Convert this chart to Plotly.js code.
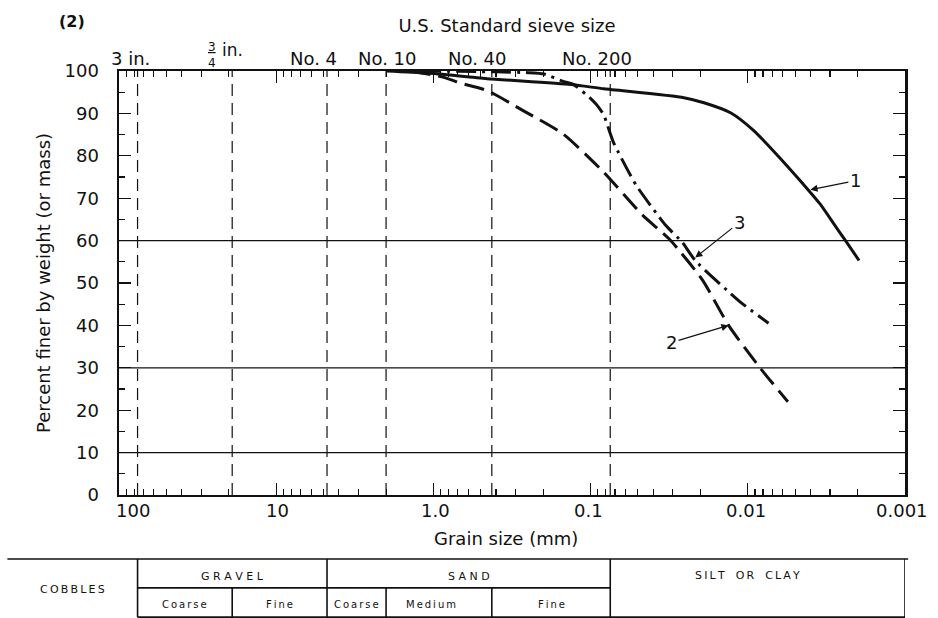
<!DOCTYPE html>
<html>
<head>
<meta charset="utf-8">
<script src="https://cdn.plot.ly/plotly-3.0.1.min.js"></script>
<style>
  html, body { margin: 0; padding: 0; background: #fff; }
  #chart { width: 938px; height: 618px; }
</style>
</head>
<body>
<div id="chart"></div>
<script>
// Grain-size distribution curves (percent finer vs. grain size, mm)
const curve1Size = [2.0, 1.10, 0.456, 0.133, 0.0822, 0.0255, 0.0190, 0.0128, 0.0092, 0.00662, 0.00446, 0.00348, 0.00276, 0.00239, 0.00196];
const curve1Pct  = [100, 99.5, 98.2, 96.8, 95.8, 93.7, 92.5, 90.1, 86.0, 80.5, 73.4, 68.7, 63.3, 60.0, 55.3];

const curve2Size = [1.4, 0.857, 0.667, 0.456, 0.267, 0.149, 0.0834, 0.0467, 0.0315, 0.0195, 0.01325, 0.00857, 0.00556];
const curve2Pct  = [100, 98.5, 97.1, 95.4, 90.6, 85.1, 76.3, 66.0, 60.3, 50.8, 40.0, 30.5, 22.0];

const curve3Size = [1.2, 0.40, 0.25, 0.198, 0.148, 0.128, 0.0998, 0.0914, 0.0826, 0.0718, 0.0514, 0.0333, 0.0261, 0.0216, 0.0114, 0.00738];
const curve3Pct  = [100, 99.8, 99.6, 99.3, 97.5, 96.8, 93.5, 92.0, 89.7, 83.3, 73.1, 63.6, 59.6, 55.3, 45.8, 40.5];

// Curve labels: grain size and percent where each arrow touches its curve
const curveLabels   = ['1', '2', '3'];
const labelAtSize   = [0.0040, 0.01325, 0.0216];
const labelAtPct    = [72, 40, 56];

// U.S. standard sieve openings (mm) and their names
const sieveSizes  = [76.2, 19.05, 4.75, 2.0, 0.425, 0.075];
const sieveLabels = ['3 in.', '3/4 in.', 'No. 4', 'No. 10', 'No. 40', 'No. 200'];

// Bottom axis decades
const decadeVals = [100, 10, 1, 0.1, 0.01, 0.001];
const decadeText = ['100', '10', '1.0', '0.1', '0.01', '0.001'];

// Percent gridlines
const pctGrid = [10, 30, 60];

// Soil classification bands (mm boundaries)
const mainBands = [
  { name: 'GRAVEL', from: 76.2, to: 4.75 },
  { name: 'SAND', from: 4.75, to: 0.075 }
];
const subBands = [
  { name: 'Coarse', from: 76.2, to: 19.05 },
  { name: 'Fine', from: 19.05, to: 4.75 },
  { name: 'Coarse', from: 4.75, to: 2.0 },
  { name: 'Medium', from: 2.0, to: 0.425 },
  { name: 'Fine', from: 0.425, to: 0.075 }
];
const fineBand = { name: 'SILT OR CLAY', from: 0.075, to: 0.001 };
const coarseBand = 'COBBLES';

const FONT = 'DejaVu Sans, Liberation Sans, sans-serif';
const INK = '#111';

const traces = [
  { x: curve1Size, y: curve1Pct, mode: 'lines', line: { color: INK, width: 3, shape: 'spline', smoothing: 0.6 } },
  { x: curve2Size, y: curve2Pct, mode: 'lines', line: { color: INK, width: 3, dash: '20px,8px', shape: 'spline', smoothing: 0.6 } },
  { x: curve3Size, y: curve3Pct, mode: 'lines', line: { color: INK, width: 3, dash: '20px,6px,3px,6px', shape: 'spline', smoothing: 0.5 } }
];

const shapes = [];
const annotations = [];
const note = (o) => annotations.push(Object.assign({ showarrow: false, xanchor: 'center', yanchor: 'middle' }, o));

// dashed verticals at each sieve opening
sieveSizes.forEach(s => shapes.push({
  type: 'line', xref: 'x', yref: 'paper', x0: s, x1: s, y0: 0, y1: 1,
  line: { color: INK, width: 1.2, dash: '12px,7px' }
}));
// thin horizontal gridlines
pctGrid.forEach(p => shapes.push({
  type: 'line', xref: 'paper', yref: 'y', x0: 0, x1: 1, y0: p, y1: p,
  line: { color: INK, width: 1.2 }
}));

// sieve names along the top
const sieveLabelNudge = [-7, 0, -14, 1, -14, -13];
sieveLabels.forEach((lab, i) => {
  const x = Math.log10(sieveSizes[i]);
  const frac = lab.match(/^(\d)\/(\d) (.*)$/);
  if (frac) {
    note({ xref: 'x', yref: 'paper', x, y: 1, yshift: 16, xshift: -20,
      text: '<u>' + frac[1] + '</u><br>' + frac[2], align: 'center',
      font: { family: FONT, size: 12, color: INK } });
    note({ xref: 'x', yref: 'paper', x, y: 1, yshift: 21, xshift: 0,
      text: frac[3], font: { family: FONT, size: 17, color: INK } });
  } else {
    note({ xref: 'x', yref: 'paper', x, y: 1, yshift: 13, xshift: sieveLabelNudge[i],
      text: lab, font: { family: FONT, size: 18, color: INK } });
  }
});

// decade labels under the axis
const decadeNudge = [14, 1, 2, -2, -2, -3];
decadeVals.forEach((v, i) => note({
  xref: 'x', yref: 'paper', x: Math.log10(v), y: 0, yshift: -15, xshift: decadeNudge[i],
  text: decadeText[i], font: { family: FONT, size: 18, color: INK }
}));
note({ xref: 'paper', yref: 'paper', x: 0.492, y: 0, yshift: -43,
  text: 'Grain size (mm)', font: { family: FONT, size: 18, color: INK } });

// curve number callouts
const calloutOffsets = [[45, -9], [-57, 17], [44, -35]];
curveLabels.forEach((lab, i) => annotations.push({
  x: Math.log10(labelAtSize[i]), y: labelAtPct[i], xref: 'x', yref: 'y',
  text: lab, showarrow: true, arrowhead: 2, arrowsize: 1.2, arrowwidth: 1.2, arrowcolor: INK,
  ax: calloutOffsets[i][0], ay: calloutOffsets[i][1],
  font: { family: FONT, size: 18, color: INK }
}));

// panel tag
note({ xref: 'paper', yref: 'paper', x: -0.06, y: 1.116, text: '<b>(2)</b>',
  font: { family: FONT, size: 16, color: INK } });

// classification table beneath the axis
const T_TOP = -0.151, T_MID = -0.219, T_BOT = -0.288;
const tableLine = { color: INK, width: 1.6 };
const hline = (x0, x1, y) => shapes.push({ type: 'line', xref: 'x', yref: 'paper', x0, x1, y0: y, y1: y, line: tableLine });
const vline = (x, y0, y1) => shapes.push({ type: 'line', xref: 'x', yref: 'paper', x0: x, x1: x, y0, y1, line: tableLine });

shapes.push({ type: 'line', xref: 'paper', yref: 'paper', x0: -0.142, x1: 1.004, y0: T_TOP, y1: T_TOP, line: tableLine });
hline(mainBands[0].from, mainBands[mainBands.length - 1].to, T_MID);
hline(mainBands[0].from, fineBand.to, T_BOT);
[mainBands[0].from, mainBands[0].to, fineBand.from, fineBand.to].forEach(b => vline(b, T_TOP, T_BOT));
subBands.forEach((b, i) => { if (i > 0 && mainBands.every(m => m.from !== b.from)) vline(b.from, T_MID, T_BOT); });

const spaced = (s, gap) => s.split(' ').map(w => w.split('').join(gap)).join('\u2003');
const gmean = (a, b) => (Math.log10(a) + Math.log10(b)) / 2;
const tableFont = { family: FONT, size: 11, color: INK };

mainBands.forEach(b => note({
  xref: 'x', yref: 'paper', x: gmean(b.from, b.to), y: -0.192, text: spaced(b.name, ' '), font: tableFont
}));
note({ xref: 'x', yref: 'paper', x: gmean(fineBand.from, fineBand.to), y: -0.19, xshift: -10,
  text: spaced(fineBand.name, '\u2009'), font: tableFont });
note({ xref: 'paper', yref: 'paper', x: -0.059, y: -0.224, text: spaced(coarseBand, '\u2009'), font: tableFont });
subBands.forEach(b => note({
  xref: 'x', yref: 'paper', x: gmean(b.from, b.to), y: -0.258, xshift: b.name === 'Medium' ? -8 : 0,
  text: spaced(b.name, '\u2009'), font: { family: FONT, size: 10, color: INK }
}));

const layout = {
  width: 938, height: 618,
  margin: { l: 119, r: 33, t: 71, b: 123 },
  paper_bgcolor: '#fff', plot_bgcolor: '#fff',
  showlegend: false,
  font: { family: FONT, color: INK },
  title: {
    text: 'U.S. Standard sieve size', x: 0.5405, y: 0.958, xanchor: 'center', yanchor: 'middle',
    font: { family: FONT, size: 18, color: INK }
  },
  xaxis: {
    type: 'log', range: [2, -3],
    tickmode: 'array', tickvals: decadeVals, showticklabels: false,
    ticks: 'inside', ticklen: 12, tickwidth: 1.3, tickcolor: INK,
    minor: { dtick: 'D1', ticks: 'inside', ticklen: 6, tickwidth: 1.1, tickcolor: INK, showgrid: false },
    showline: true, linewidth: 2, linecolor: INK, mirror: 'allticks',
    showgrid: false, zeroline: false
  },
  yaxis: {
    range: [0, 100], tick0: 0, dtick: 10,
    ticks: 'inside', ticklen: 12, tickwidth: 1.3, tickcolor: INK,
    minor: { dtick: 5, ticks: 'inside', ticklen: 6, tickwidth: 1.1, tickcolor: INK, showgrid: false },
    showline: true, linewidth: 2.5, linecolor: INK, mirror: 'allticks',
    showgrid: false, zeroline: false,
    ticklabelstandoff: 14,
    tickfont: { family: FONT, size: 18, color: INK },
    title: { text: 'Percent finer by weight (or mass)', standoff: 9, font: { family: FONT, size: 18, color: INK } }
  },
  shapes, annotations
};

Plotly.newPlot('chart', traces, layout, { displayModeBar: false, staticPlot: true });
</script>
</body>
</html>
